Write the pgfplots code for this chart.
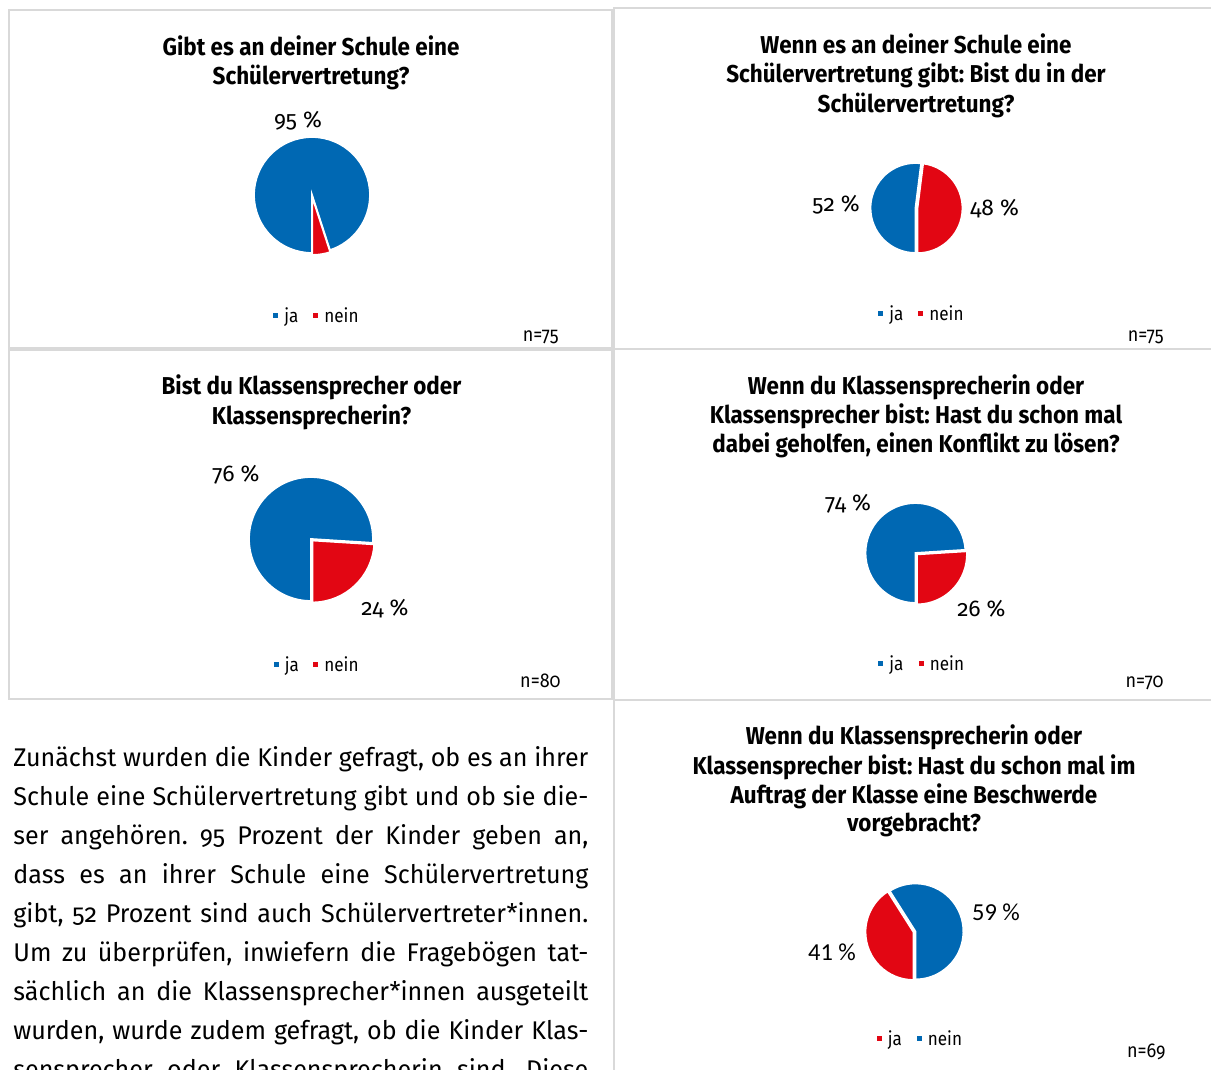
\documentclass[border=0pt]{standalone}
\usepackage{fontspec}
\usepackage{pgfplots}
\pgfplotsset{compat=1.18}
\setmainfont{Fira Sans}[Numbers=OldStyle]
\newfontfamily\titlefont{Fira Sans}[FakeStretch=0.92]
\newfontfamily\chartfont{Fira Sans}[Numbers=OldStyle]
\newfontfamily\legfont{Fira Sans}[Numbers=OldStyle, FakeStretch=0.9]
\newfontfamily\bodyfont{Fira Sans}[Numbers=OldStyle, FakeStretch=0.98]
\newfontfamily\calfont{Carlito}
\definecolor{jablue}{HTML}{0068B3}
\definecolor{neinred}{HTML}{E20613}
\definecolor{frame}{HTML}{D9D9D9}
\frenchspacing

% one slice: colour, start angle, end angle, explode, radius
\newcommand\slice[5]{%
  \fill[#1, draw=white, line width=0.9pt]
    ([shift={({(#2+#3)/2}:#4)}]axis cs:0,0) -- ++({#2}:#5)
    arc[start angle={#2}, end angle={#3}, radius=#5] -- cycle;}

% pie: cx, cy, radius (px), first value, first colour, second value, second colour
\newcommand\pie[7]{%
  \begin{axis}[at={(#1*0.5pt,-#2*0.5pt)}, anchor=center, hide axis, clip=false,
      x=#3*0.5pt, y=#3*0.5pt, xmin=-1, xmax=1, ymin=-1, ymax=1]
    \slice{#5}{-90}{-90-#4*3.6}{0pt}{#3*0.5pt}
    \slice{#7}{-90-#4*3.6}{-450}{1pt}{#3*0.5pt}
  \end{axis}}

\newcommand\tline[3]{\node[anchor=base, inner sep=0pt, font=\titlefont\bfseries\fontsize{12.2}{14}\selectfont] at (#1,#2+1.5) {#3};}
\newcommand\plabel[3]{\node[anchor=base, inner sep=0pt, font=\chartfont\fontsize{11.4}{13}\selectfont] at (#1,#2) {#3};}
\newcommand\legitem[4]{%
  \fill[#3] (#1,#2-9.5) rectangle ++(5,5);
  \node[anchor=base west, inner sep=0pt, font=\legfont\fontsize{9.5}{11}\selectfont] at (#1+11,#2) {#4};}
\newcommand\nlabel[3]{\node[anchor=base east, inner sep=0pt, font=\legfont\fontsize{10}{11}\selectfont] at (#1,#2) {#3};}
\newcommand\bline[2]{\node[anchor=base west, inner sep=0pt, font=\bodyfont\fontsize{12.8}{15}\selectfont] at (13,#1) {\makebox[287.5pt][s]{#2}};}

\begin{document}
\begin{tikzpicture}[x=0.5pt, y=-0.5pt]
\useasboundingbox (0,0) rectangle (1211,1070);
\fill[white] (0,0) rectangle (1211,1070);
\clip (0,0) rectangle (1211,1070);

% frames
\draw[frame, line width=1pt] (8.5,10) rectangle (612,348);
\draw[frame, line width=1pt] (8.5,350) rectangle (612,699);
\draw[frame, line width=1pt] (1215,8.5) -- (614,8.5) -- (614,1075);
\draw[frame, line width=1pt] (614,349) -- (1215,349);
\draw[frame, line width=1pt] (614,700) -- (1215,700);

% chart 1
\tline{311}{54}{Gibt es an deiner Schule eine}
\tline{311}{83}{Schülervertretung?}
\pie{312}{195}{58}{95}{jablue}{5}{neinred}
\plabel{298}{127}{95 \%}
\legitem{273}{322}{jablue}{ja}
\legitem{313}{322}{neinred}{nein}
\nlabel{559}{341}{n=75}

% chart 2
\tline{916}{52}{Wenn es an deiner Schule eine}
\tline{916}{81.5}{Schülervertretung gibt: Bist du in der}
\tline{916}{111}{Schülervertretung?}
\pie{915.5}{208}{45}{52}{jablue}{48}{neinred}
\plabel{836}{212}{52 \%}
\plabel{994.5}{215}{48 \%}
\legitem{878}{320}{jablue}{ja}
\legitem{918}{320}{neinred}{nein}
\nlabel{1164}{341}{n=75}

% chart 3
\tline{311.5}{393}{Bist du Klassensprecher oder}
\tline{311.5}{422.5}{Klassensprecherin?}
\pie{311}{539}{62}{76}{jablue}{24}{neinred}
\plabel{236}{481.5}{76 \%}
\plabel{385}{615}{24 \%}
\legitem{273.5}{671}{jablue}{ja}
\legitem{313}{671}{neinred}{nein}
\nlabel{561}{687}{n=80}

% chart 4
\tline{916}{392.5}{Wenn du Klassensprecherin oder}
\tline{916}{421.5}{Klassensprecher bist: Hast du schon mal}
\tline{916}{451}{dabei geholfen, einen Konflikt zu lösen?}
\pie{915.5}{553}{50}{74}{jablue}{26}{neinred}
\plabel{848}{510}{74 \%}
\plabel{981.5}{616.5}{26 \%}
\legitem{878}{670.5}{jablue}{ja}
\legitem{918.5}{670.5}{neinred}{nein}
\nlabel{1164}{687}{n=70}

% chart 5
\tline{914}{743}{Wenn du Klassensprecherin oder}
\tline{914}{772.5}{Klassensprecher bist: Hast du schon mal im}
\tline{914}{801.5}{Auftrag der Klasse eine Beschwerde}
\tline{914}{830}{vorgebracht?}
\pie{913.5}{932}{48}{41}{neinred}{59}{jablue}
\node[anchor=base, inner sep=0pt, font=\calfont\fontsize{12.2}{14}\selectfont] at (996,920) {59 \%};
\node[anchor=base, inner sep=0pt, font=\calfont\fontsize{12.2}{14}\selectfont] at (832,960.5) {41 \%};
\legitem{876.5}{1045.5}{neinred}{ja}
\legitem{916.5}{1045.5}{jablue}{nein}
\nlabel{1166}{1057}{n=69}

% text
\bline{766.7}{Zunächst wurden die Kinder gefragt, ob es an ihrer}
\bline{805.7}{Schule eine Schülervertretung gibt und ob sie die-}
\bline{844.7}{ser angehören. 95 Prozent der Kinder geben an,}
\bline{883.7}{dass es an ihrer Schule eine Schülervertretung}
\bline{922.7}{gibt, 52 Prozent sind auch Schülervertreter*innen.}
\bline{961.7}{Um zu überprüfen, inwiefern die Fragebögen tat-}
\bline{1000.7}{sächlich an die Klassensprecher*innen ausgeteilt}
\bline{1039.7}{wurden, wurde zudem gefragt, ob die Kinder Klas-}
\bline{1078.7}{sensprecher oder Klassensprecherin sind. Diese}
\end{tikzpicture}
\end{document}
